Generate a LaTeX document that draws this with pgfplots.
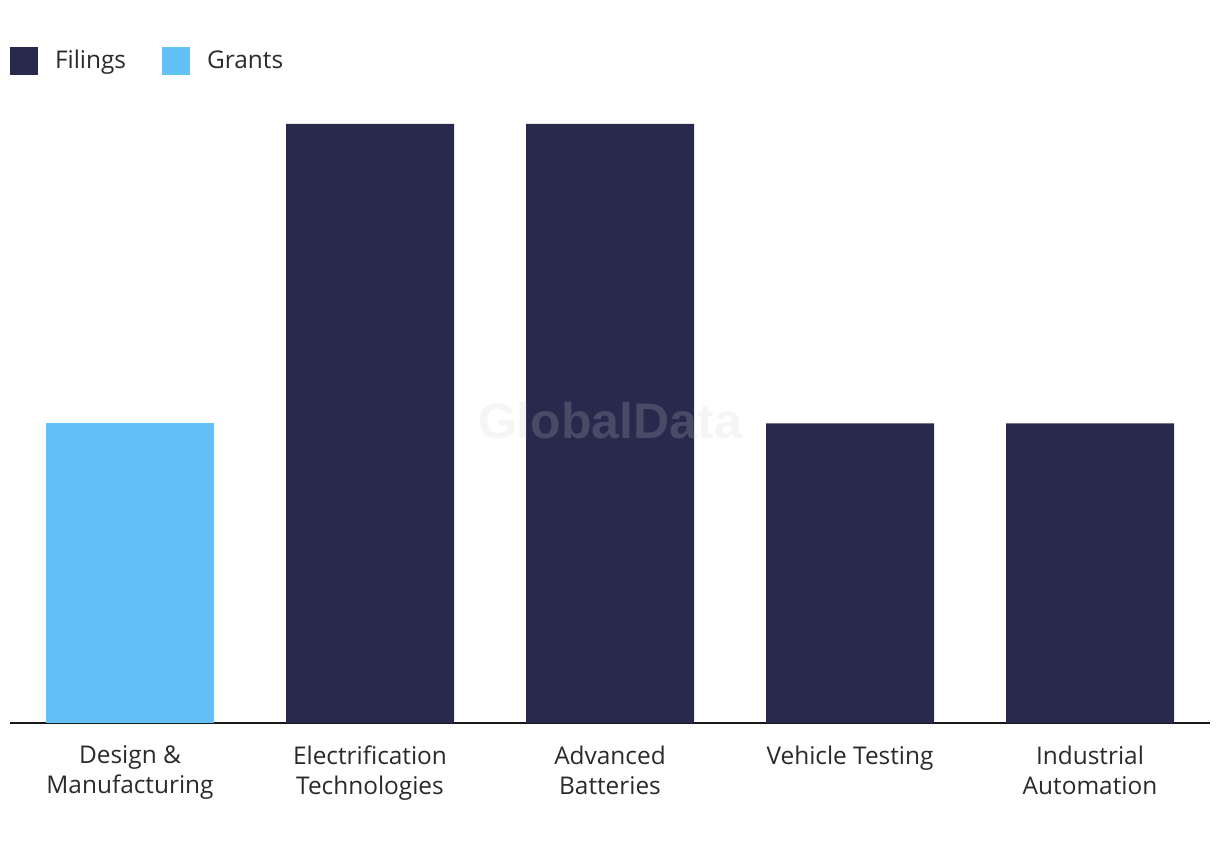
\documentclass[border=0pt]{standalone}
\usepackage{pgfplots}
\pgfplotsset{compat=1.18}
\usepackage{fontspec}
\setmainfont{Open Sans}
\newfontfamily\wmfont{Liberation Sans}
\definecolor{navy}{HTML}{28294C}
\definecolor{sky}{HTML}{63C1F8}
\definecolor{txt}{HTML}{2A2A2A}
\definecolor{wm}{RGB}{206,206,206}
\begin{document}
\begin{tikzpicture}
\path[use as bounding box] (-5pt,-63.5pt) rectangle (605pt,361.5pt);
\begin{axis}[
  at={(60pt,0pt)}, anchor=origin,
  scale only axis,
  width=600pt, height=299.5pt,
  xmin=-0.5, xmax=4.5,
  ymin=0, ymax=2,
  ybar, bar width=84pt, bar shift=0pt,
  axis x line*=bottom, axis y line=none,
  x axis line style={line width=1pt, draw=black!90, -},
  xtick={0,1,2,3,4},
  xticklabels={{Design \&\\Manufacturing},{Electrification\\Technologies},{Advanced\\Batteries},{Vehicle Testing},{Industrial\\Automation}},
  xticklabel style={align=center, font=\fontsize{12.2}{15}\selectfont, text=txt, anchor=north, yshift=-8pt},
  major tick length=0pt,
  legend columns=2,
  legend style={at={(axis description cs:0,1.13)}, anchor=north west, draw=none, fill=none,
    inner sep=0pt, outer sep=0pt, font=\fontsize{12.2}{14}\selectfont, text=txt,
    /tikz/every even column/.append style={column sep=16pt}},
  legend image code/.code={\fill[#1] (0pt,-7pt) rectangle (14pt,7pt);},
  legend cell align=left,
  clip=false,
]
\addplot[fill=navy, draw=none] coordinates {(1,2) (2,2) (3,1) (4,1)};
\addlegendentry{\hspace{6.5pt}Filings}
\addplot[fill=sky, draw=none] coordinates {(0,1)};
\addlegendentry{\hspace{6.5pt}Grants}
\node[text=wm, opacity=0.2, font=\wmfont\bfseries\fontsize{25}{25}\selectfont] at (axis cs:2,1.01) {GlobalData};
\end{axis}
\end{tikzpicture}
\end{document}
